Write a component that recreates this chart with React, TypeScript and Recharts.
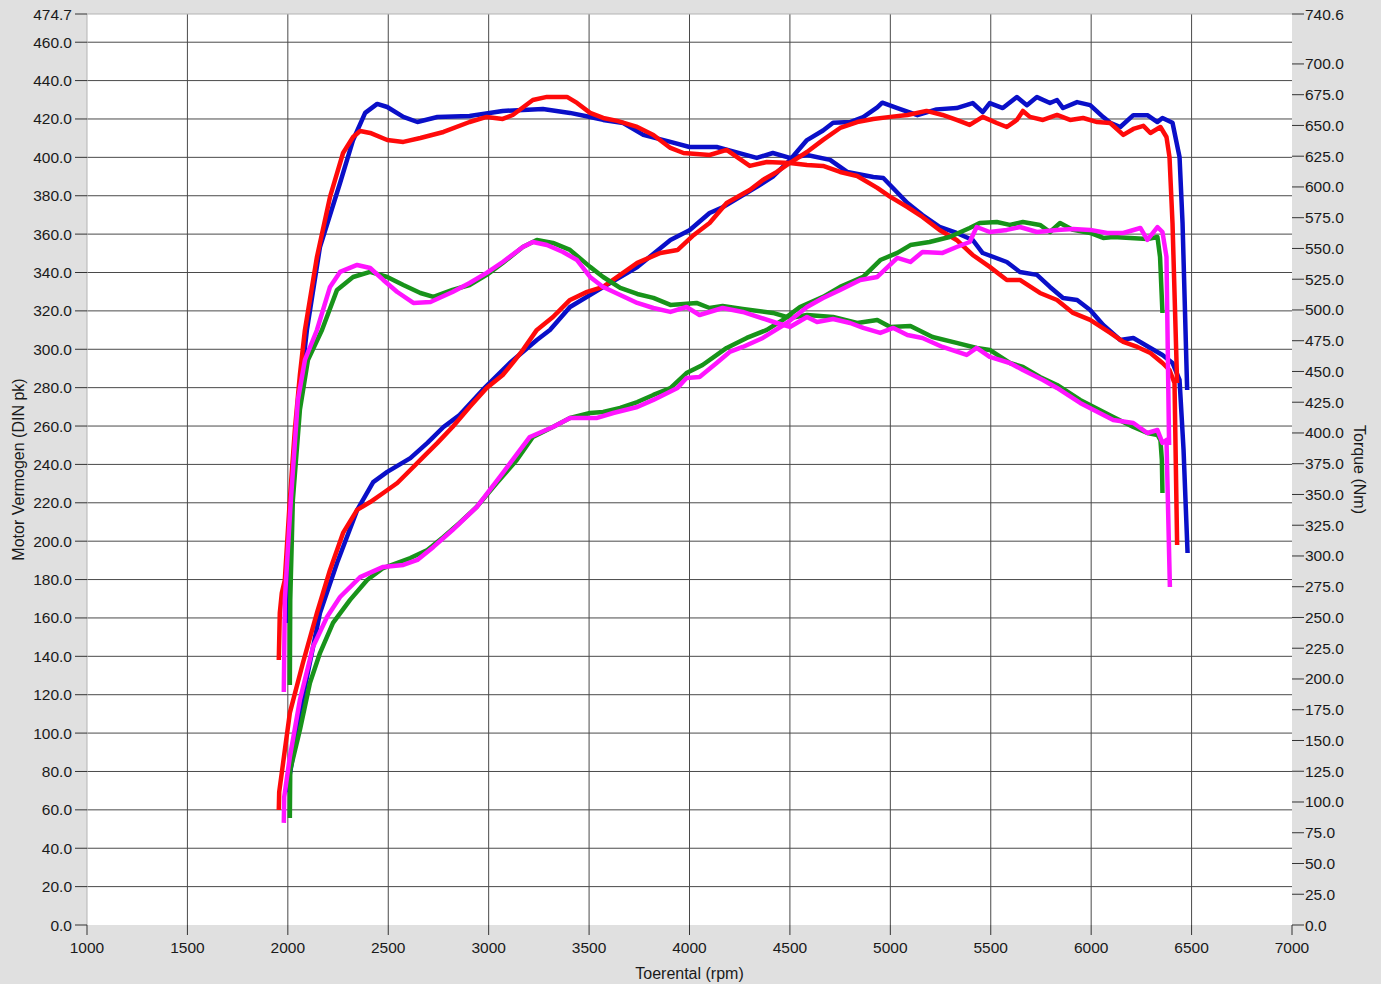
import React from 'react';
import { LineChart, Line, XAxis, YAxis, CartesianGrid, ReferenceLine, Label } from 'recharts';

// axis ticks
const rpmTicks = [1000, 1500, 2000, 2500, 3000, 3500, 4000, 4500, 5000, 5500, 6000, 6500, 7000];
const rpmGrid = [1500, 2000, 2500, 3000, 3500, 4000, 4500, 5000, 5500, 6000, 6500];
const pkTicks = [0, 20, 40, 60, 80, 100, 120, 140, 160, 180, 200, 220, 240, 260, 280, 300, 320, 340, 360, 380, 400, 420, 440, 460, 474.7];
const pkGrid = [20, 40, 60, 80, 100, 120, 140, 160, 180, 200, 220, 240, 260, 280, 300, 320, 340, 360, 380, 400, 420, 440, 460];
const nmTicks = [0, 25, 50, 75, 100, 125, 150, 175, 200, 225, 250, 275, 300, 325, 350, 375, 400, 425, 450, 475, 500, 525, 550, 575, 600, 625, 650, 675, 700, 740.6];

// [rpm, value] pairs
const bluePower: [number, number][] = [
  [1995, 69.3], [2075, 118.8], [2160, 162.6], [2245, 188.6], [2345, 216.2], [2425, 230.8], [2495, 236.1],
  [2610, 243.3], [2695, 251.2], [2775, 259.5], [2855, 265.7], [2970, 278.8], [3105, 292.8], [3240, 304.8],
  [3305, 310], [3405, 322], [3570, 332.4], [3740, 342.9], [3905, 356.9], [4000, 362], [4100, 371], [4165, 374],
  [4335, 384.6], [4415, 390], [4500, 398.6], [4585, 409], [4665, 414], [4715, 418], [4800, 418.4], [4865, 421],
  [4935, 426], [4960, 428.5], [5035, 425.7], [5135, 422], [5230, 425], [5330, 425.7], [5410, 428.3], [5460, 423.6],
  [5495, 428.3], [5560, 425.7], [5630, 431.4], [5680, 427.2], [5730, 431.4], [5795, 428.3], [5830, 429.9],
  [5860, 425.7], [5930, 428.8], [5995, 427.2], [6060, 421], [6095, 418], [6145, 415.8], [6210, 422], [6280, 422],
  [6330, 418.4], [6355, 420.5], [6405, 418], [6440, 400.2], [6455, 365.8], [6478, 278.8],
];

const blueTorque: [number, number][] = [
  [1995, 245.5], [2020, 345.5], [2050, 418.7], [2095, 483.7], [2160, 551.2], [2260, 603.2], [2325, 638.2],
  [2385, 660.2], [2445, 667.5], [2495, 665], [2575, 656.9], [2645, 652.8], [2745, 656.9], [2905, 657.7],
  [3070, 661.8], [3270, 663.4], [3405, 660.2], [3505, 656.9], [3570, 654.5], [3670, 652], [3770, 642.3],
  [3905, 636.6], [4000, 632.5], [4135, 632.5], [4335, 623.6], [4415, 627.6], [4500, 623.6], [4585, 626],
  [4700, 622], [4785, 612.2], [4915, 608.1], [4965, 607.3], [5085, 587], [5160, 577.2], [5245, 567.5],
  [5330, 562.6], [5410, 556.9], [5460, 546.3], [5580, 539], [5645, 530.9], [5730, 528.5], [5795, 518.7],
  [5860, 509.8], [5930, 508.1], [5995, 500], [6060, 487.8], [6145, 475.6], [6210, 477.2], [6295, 469.1],
  [6355, 463.4], [6405, 456.9], [6440, 443.1], [6460, 386.2], [6480, 302.4],
];

const redPower: [number, number][] = [
  [1955, 59.9], [1957, 69.3], [2010, 110.5], [2075, 136.5], [2145, 162.6], [2210, 185], [2275, 204.3],
  [2345, 216.3], [2410, 220.4], [2475, 225.1], [2545, 230.3], [2610, 237.1], [2675, 243.9], [2745, 251.2],
  [2820, 259.5], [2905, 269.9], [2990, 279.8], [3070, 286.6], [3120, 292.9], [3170, 299.6], [3240, 310.1],
  [3320, 316.8], [3405, 325.7], [3490, 329.9], [3570, 332.5], [3740, 345], [3855, 350.2], [3940, 351.7],
  [4015, 359], [4100, 365.8], [4185, 376.2], [4300, 383], [4365, 388.2], [4435, 392.4], [4500, 397.1],
  [4585, 402.8], [4665, 409.1], [4750, 415.3], [4835, 418.4], [4915, 420], [5000, 421.1], [5085, 422.1],
  [5180, 424.2], [5260, 422.1], [5330, 419.5], [5395, 416.9], [5460, 421.1], [5530, 417.9], [5580, 415.8],
  [5630, 419.5], [5660, 424.2], [5695, 421.1], [5760, 419.5], [5830, 422.1], [5895, 419.5], [5960, 420.5],
  [6030, 418.4], [6095, 417.9], [6160, 411.7], [6210, 414.8], [6260, 416.4], [6295, 412.7], [6345, 415.8],
  [6375, 410.6], [6390, 400.2], [6405, 365.8], [6428, 282.4],
];

const redTorque: [number, number][] = [
  [1955, 215.4], [1960, 253.7], [1970, 269.9], [1985, 280.5], [2010, 345.5], [2035, 402.4], [2060, 447.2],
  [2085, 483.7], [2145, 543.1], [2210, 591.9], [2275, 627.6], [2325, 640.6], [2360, 645.5], [2410, 643.9],
  [2495, 638.2], [2575, 636.6], [2660, 639.8], [2775, 644.7], [2905, 652.8], [2990, 656.9], [3070, 655.3],
  [3120, 658.5], [3220, 670.7], [3290, 673.2], [3390, 673.2], [3440, 668.3], [3505, 660.2], [3570, 656.1],
  [3640, 653.7], [3740, 648.8], [3820, 642.3], [3905, 631.7], [3970, 627.6], [4100, 626], [4185, 630.1],
  [4300, 617.1], [4385, 620.3], [4500, 619.5], [4585, 617.9], [4665, 617.1], [4750, 612.2], [4835, 608.9],
  [4935, 599.2], [5000, 591.9], [5085, 583.7], [5160, 575.6], [5245, 565], [5330, 556.9], [5410, 544.7],
  [5495, 535], [5580, 524.4], [5645, 524.4], [5745, 513.8], [5830, 508.1], [5910, 497.6], [5995, 491.9],
  [6095, 481.3], [6160, 474], [6230, 469.9], [6295, 465], [6355, 456.9], [6390, 451.2], [6415, 440.6],
  [6428, 308.9],
];

const greenPower: [number, number][] = [
  [2010, 55.8], [2012, 80.8], [2060, 101.6], [2110, 126.1], [2160, 141.7], [2225, 157.4], [2310, 169.4],
  [2395, 179.8], [2475, 186], [2610, 191.2], [2695, 195.4], [2775, 202.2], [2855, 209.5], [2940, 217.8],
  [3040, 230.3], [3140, 242.3], [3220, 254.3], [3320, 259.5], [3405, 264.2], [3505, 266.8], [3570, 267.3],
  [3655, 269.4], [3740, 272.5], [3820, 276.2], [3905, 279.8], [3985, 287.6], [4065, 291.8], [4185, 300.7],
  [4285, 305.9], [4385, 310.1], [4465, 315.3], [4550, 322], [4665, 327.3], [4750, 332.5], [4865, 337.7],
  [4950, 346.5], [5035, 350.2], [5100, 354.3], [5195, 355.9], [5295, 358.5], [5395, 363.2], [5445, 365.8],
  [5530, 366.3], [5595, 364.8], [5660, 366.3], [5745, 364.8], [5795, 361.1], [5845, 365.8], [5910, 362.2],
  [5995, 360.6], [6060, 358], [6110, 358.5], [6195, 358], [6280, 357.5], [6330, 358.5], [6343, 348.1],
  [6355, 318.9],
];

const greenTorque: [number, number][] = [
  [2010, 195.1], [2012, 264.2], [2025, 345.5], [2060, 418.7], [2100, 459.3], [2170, 483.7], [2245, 516.3],
  [2325, 526.8], [2410, 530.9], [2495, 526.8], [2575, 520.3], [2660, 513.8], [2725, 510.6], [2820, 516.3],
  [2905, 520.3], [2990, 528.5], [3070, 538.2], [3170, 551.2], [3240, 556.9], [3320, 554.5], [3405, 548.8],
  [3505, 535], [3570, 526.8], [3655, 517.9], [3740, 513], [3820, 509.8], [3905, 504.1], [4035, 505.7],
  [4100, 501.6], [4165, 503.2], [4265, 500.8], [4415, 497.6], [4500, 493.5], [4585, 495.9], [4715, 494.3],
  [4835, 489.4], [4935, 491.9], [5000, 486.2], [5100, 487], [5210, 478], [5330, 473.2], [5430, 469.1],
  [5495, 467.5], [5595, 456.9], [5660, 453.7], [5745, 445.5], [5830, 439], [5945, 426.8], [6110, 413],
  [6210, 404.9], [6280, 400], [6330, 398.4], [6345, 394.3], [6352, 378], [6355, 351.2],
];

const magentaPower: [number, number][] = [
  [1980, 53.2], [1982, 66.7], [2010, 87.5], [2060, 117.2], [2125, 144.9], [2195, 160.5], [2260, 170.9],
  [2360, 181.3], [2475, 186.6], [2575, 187.6], [2645, 190.2], [2725, 197], [2820, 205.8], [2940, 217.8],
  [3070, 235.5], [3205, 254.3], [3320, 259.5], [3405, 264.2], [3540, 264.2], [3620, 266.8], [3740, 269.9],
  [3820, 273.6], [3940, 279.8], [3985, 285], [4050, 285.6], [4135, 292.9], [4200, 298.6], [4265, 301.2],
  [4365, 305.9], [4485, 313.7], [4585, 322], [4665, 326.7], [4750, 330.9], [4850, 336.1], [4935, 337.7],
  [5035, 347.6], [5100, 345.5], [5160, 350.7], [5260, 350.2], [5330, 353.3], [5395, 355.9], [5430, 363.7],
  [5495, 361.1], [5580, 362.2], [5645, 363.7], [5730, 361.1], [5830, 362.2], [5910, 362.7], [5995, 362.2],
  [6080, 360.6], [6160, 360.6], [6245, 363.2], [6280, 357], [6330, 363.7], [6355, 361.1], [6375, 348.1],
  [6388, 250.1],
];

const magentaTorque: [number, number][] = [
  [1980, 189.4], [1985, 264.2], [2015, 345.5], [2050, 426.8], [2085, 459.3], [2145, 483.7], [2210, 518.7],
  [2260, 530.9], [2345, 536.6], [2410, 534.1], [2475, 524.4], [2545, 514.6], [2625, 505.7], [2710, 506.5],
  [2820, 514.6], [2905, 521.9], [2990, 530.1], [3070, 539], [3170, 551.2], [3220, 555.3], [3290, 552.8],
  [3370, 547.1], [3440, 540.6], [3505, 526.8], [3570, 518.7], [3655, 512.2], [3740, 505.7], [3820, 501.6],
  [3905, 498.4], [3985, 502.4], [4050, 495.9], [4165, 501.6], [4265, 498.4], [4435, 489.4], [4500, 486.2],
  [4585, 494.3], [4635, 490.2], [4715, 492.7], [4800, 489.4], [4865, 485.4], [4950, 481.3], [5015, 485.4],
  [5085, 479.7], [5160, 477.2], [5260, 469.9], [5380, 463.4], [5430, 469.1], [5495, 461.8], [5595, 456.9],
  [5660, 451.2], [5760, 443.1], [5830, 436.6], [5945, 424.4], [6110, 410.6], [6210, 408.1], [6280, 400],
  [6330, 402.4], [6355, 391.9], [6375, 394.3], [6392, 274.8],
];

const toPts = (pairs: [number, number][]) => pairs.map(([rpm, v]) => ({ rpm, v }));

const series = [
  { name: 'blue-pk', data: bluePower, axis: 'pk', color: '#0a0fc8' },
  { name: 'blue-nm', data: blueTorque, axis: 'nm', color: '#0a0fc8' },
  { name: 'red-pk', data: redPower, axis: 'pk', color: '#ff0a0a' },
  { name: 'red-nm', data: redTorque, axis: 'nm', color: '#ff0a0a' },
  { name: 'green-pk', data: greenPower, axis: 'pk', color: '#18931a' },
  { name: 'green-nm', data: greenTorque, axis: 'nm', color: '#18931a' },
  { name: 'magenta-pk', data: magentaPower, axis: 'pk', color: '#ff14ff' },
  { name: 'magenta-nm', data: magentaTorque, axis: 'nm', color: '#ff14ff' },
];

const tickStyle = { fontSize: 15.5, fill: '#1a1a1a', fontFamily: '"Liberation Sans", Arial, sans-serif' };
const titleStyle = { fontSize: 16, fill: '#1a1a1a', fontFamily: '"Liberation Sans", Arial, sans-serif', textAnchor: 'middle' as const };

export default function App() {
  return (
    <div
      style={{
        position: 'absolute',
        left: 0,
        top: 0,
        width: 1381,
        height: 984,
        background: '#e0e0e0',
        fontFamily: '"Liberation Sans", Arial, sans-serif',
      }}
    >
      <LineChart width={1381} height={984} margin={{ top: 14, right: 0, bottom: 0, left: 0 }}>
        <CartesianGrid
          yAxisId="pk"
          fill="#ffffff"
          stroke="#4a4a4a"
          strokeWidth={1}
          horizontalValues={pkGrid}
          verticalValues={rpmGrid}
        />
        <XAxis
          dataKey="rpm"
          type="number"
          domain={[1000, 7000]}
          ticks={rpmTicks}
          allowDataOverflow
          height={59}
          axisLine={false}
          tickLine={{ stroke: '#333' }}
          tickSize={10}
          tickMargin={7}
          tick={tickStyle}
        >
          <Label value="Toerental (rpm)" position="insideBottom" offset={5} style={titleStyle} />
        </XAxis>
        <YAxis
          yAxisId="pk"
          orientation="left"
          type="number"
          domain={[0, 474.7]}
          ticks={pkTicks}
          allowDataOverflow
          interval={0}
          width={87}
          axisLine={{ stroke: '#b4b4b4' }}
          tickLine={{ stroke: '#333' }}
          tickSize={12}
          tickMargin={3}
          tick={tickStyle}
          tickFormatter={(v: number) => v.toFixed(1)}
        >
          <Label value="Motor Vermogen (DIN pk)" angle={-90} position="insideLeft" offset={18} style={titleStyle} />
        </YAxis>
        <YAxis
          yAxisId="nm"
          orientation="right"
          type="number"
          domain={[0, 740.6]}
          ticks={nmTicks}
          allowDataOverflow
          interval={0}
          width={89}
          axisLine={false}
          tickLine={{ stroke: '#333' }}
          tickSize={12}
          tickMargin={1}
          tick={tickStyle}
          tickFormatter={(v: number) => v.toFixed(1)}
        >
          <Label value="Torque (Nm)" angle={90} position="insideRight" offset={21} style={titleStyle} />
        </YAxis>
        <ReferenceLine yAxisId="pk" y={474.7} stroke="#b4b4b4" />
        {series.map((s) => (
          <Line
            key={s.name}
            data={toPts(s.data)}
            dataKey="v"
            yAxisId={s.axis}
            type="linear"
            stroke={s.color}
            strokeWidth={4.5}
            dot={false}
            isAnimationActive={false}
            strokeLinejoin="round"
          />
        ))}
      </LineChart>
    </div>
  );
}
